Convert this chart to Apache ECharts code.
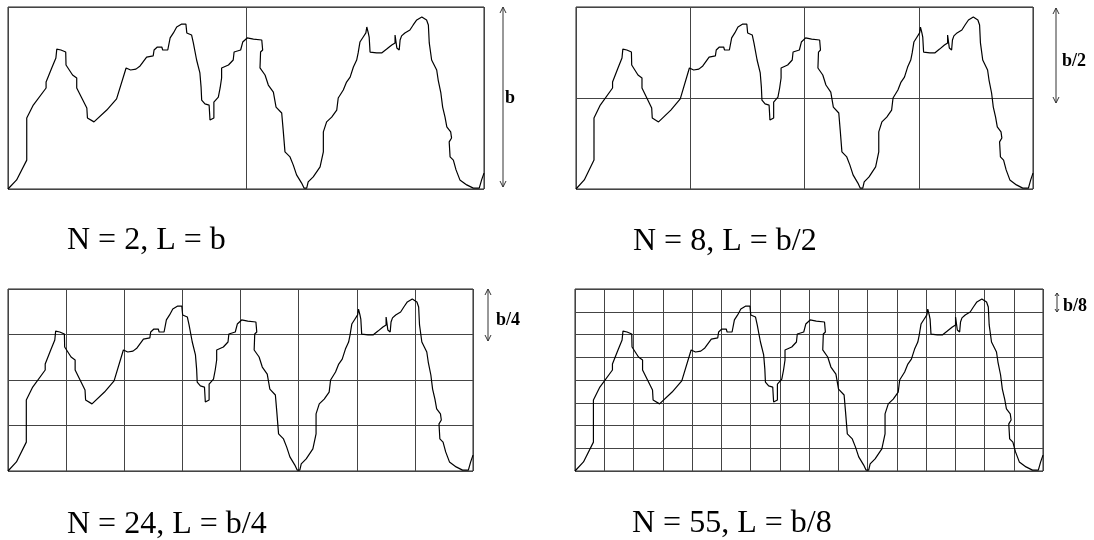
<!DOCTYPE html>
<html>
<head>
<meta charset="utf-8">
<title>box counting</title>
<script src="https://cdn.jsdelivr.net/npm/echarts@6/dist/echarts.min.js"></script>
<style>
  html, body { margin: 0; padding: 0; background: #fff; }
  #main { width: 1094px; height: 540px; }
</style>
</head>
<body>
<div id="main"></div>
<script>
// profile curve, x runs 0..16 and y runs 0..8 (b = 8)
var curveX = [0, 0.29, 0.63, 0.63, 0.85, 1.28, 1.28, 1.47, 1.61, 1.64, 1.78, 1.94, 1.95, 2.17, 2.31, 2.31, 2.48, 2.65, 2.67, 2.89,
    3.32, 3.65, 3.97, 4.12, 4.30, 4.44, 4.66, 4.88, 4.91, 5.02, 5.17, 5.20, 5.37, 5.45, 5.56, 5.67, 5.84, 5.98, 6.01, 6.17,
    6.23, 6.34, 6.45, 6.49, 6.51, 6.62, 6.76, 6.79, 6.92, 6.92, 7.07, 7.13, 7.18, 7.18, 7.41, 7.57, 7.60, 7.82, 7.89, 8.04,
    8.25, 8.53, 8.56, 8.49, 8.47, 8.64, 8.75, 8.92, 9.01, 9.20, 9.25, 9.31, 9.48, 9.59, 9.70, 9.87, 9.95, 10.04, 10.09, 10.26,
    10.49, 10.60, 10.60, 10.71, 10.88, 11.05, 11.10, 11.27, 11.38, 11.50, 11.61, 11.72, 11.77, 11.83, 11.94, 12.03, 12.06, 12.11, 12.14, 12.17,
    12.39, 12.56, 12.73, 12.90, 13.01, 13.01, 13.07, 13.15, 13.18, 13.23, 13.34, 13.51, 13.62, 13.74, 13.91, 14.07, 14.13, 14.16, 14.24, 14.41,
    14.46, 14.55, 14.61, 14.69, 14.75, 14.88, 14.91, 14.83, 14.86, 14.97, 15.06, 15.19, 15.42, 15.64, 15.84, 15.92, 16.0];
var curveY = [0, 0.40, 1.27, 3.12, 3.69, 4.44, 4.70, 5.32, 5.76, 6.15, 6.11, 6.02, 5.45, 5.01, 4.88, 4.44, 4.00, 3.56, 3.12, 2.95,
    3.47, 3.96, 5.32, 5.23, 5.27, 5.41, 5.80, 5.85, 6.11, 6.24, 6.24, 6.11, 6.11, 6.64, 6.86, 7.12, 7.25, 7.25, 6.86, 6.77,
    6.42, 5.67, 5.10, 4.48, 3.91, 3.74, 3.69, 3.03, 3.12, 3.82, 4.04, 4.44, 4.88, 5.32, 5.45, 5.67, 6.02, 6.11, 6.46, 6.64,
    6.59, 6.55, 6.11, 6.02, 5.32, 5.01, 4.57, 4.26, 3.60, 3.34, 2.59, 1.63, 1.41, 1.05, 0.62, 0.26, 0.04, 0.04, 0.31, 0.53,
    0.97, 1.63, 2.51, 2.95, 3.16, 3.47, 4.00, 4.35, 4.70, 4.92, 5.36, 5.67, 5.98, 6.46, 6.68, 6.86, 7.12, 6.86, 6.68, 6.02,
    5.98, 5.98, 6.15, 6.33, 6.42, 6.77, 6.20, 6.11, 6.55, 6.73, 6.86, 6.99, 7.21, 7.43, 7.56, 7.43, 7.21, 6.42, 5.67, 5.23,
    4.79, 4.22, 3.60, 3.16, 2.73, 2.51, 2.24, 2.07, 1.41, 1.27, 0.84, 0.40, 0.18, 0.04, 0.04, 0.40, 0.70];

var boxCount = ['2', '8', '24', '55'];
var boxSize = ['b', 'b/2', 'b/4', 'b/8'];
var boxStep = [8, 4, 2, 1];

// panel boxes in pixels: left, top, width, height
var panels = [
    [8, 7, 476, 182],
    [576, 7, 457, 182],
    [8, 289, 465, 182],
    [575, 289, 468, 182]
];
// arrow x, top, bottom, label x, label y
var arrows = [
    [503, 7, 187, 505, 98],
    [1056, 8, 103, 1062, 61],
    [488, 289, 341, 496, 320],
    [1057, 293, 312, 1063, 306]
];
// caption x, y
var captions = [[67, 241], [633, 242], [67, 525], [632, 524]];

var Chart = echarts.init(document.getElementById('main'));

var pts = [];
for (var i = 0; i < curveX.length; i++) {
    pts.push([curveX[i], curveY[i]]);
}

var grids = [], xAxes = [], yAxes = [], series = [], graphics = [];
for (var k = 0; k < 4; k++) {
    var p = panels[k];
    grids.push({
        left: p[0], top: p[1], width: p[2], height: p[3],
        show: true, borderColor: '#222', borderWidth: 1
    });
    xAxes.push({
        type: 'value', gridIndex: k, min: 0, max: 16, interval: boxStep[k],
        axisLine: {show: false}, axisTick: {show: false}, axisLabel: {show: false},
        splitLine: {show: true, lineStyle: {color: '#444', width: 1}}
    });
    yAxes.push({
        type: 'value', gridIndex: k, min: 0, max: 8, interval: boxStep[k],
        axisLine: {show: false}, axisTick: {show: false}, axisLabel: {show: false},
        splitLine: {show: true, lineStyle: {color: '#444', width: 1}}
    });
    series.push({
        type: 'line', xAxisIndex: k, yAxisIndex: k, data: pts,
        showSymbol: false, silent: true, animation: false,
        lineStyle: {color: '#000', width: 1.2}
    });

    // double arrow for the box size
    var a = arrows[k];
    var h = (a[2] - a[1]) > 40 ? 6 : 3;
    var w = (a[2] - a[1]) > 40 ? 3 : 2;
    graphics.push({type: 'line', shape: {x1: a[0], y1: a[1], x2: a[0], y2: a[2]}, style: {stroke: '#333', lineWidth: 1}});
    graphics.push({type: 'polyline', shape: {points: [[a[0] - w, a[1] + h], [a[0], a[1]], [a[0] + w, a[1] + h]]}, style: {stroke: '#333', fill: null, lineWidth: 1}});
    graphics.push({type: 'polyline', shape: {points: [[a[0] - w, a[2] - h], [a[0], a[2]], [a[0] + w, a[2] - h]]}, style: {stroke: '#333', fill: null, lineWidth: 1}});
    graphics.push({
        type: 'text', x: a[3], y: a[4],
        style: {text: boxSize[k], fill: '#000', font: 'bold 18px "Liberation Serif"', textVerticalAlign: 'middle'}
    });

    // caption
    var c = captions[k];
    graphics.push({
        type: 'text', x: c[0], y: c[1],
        style: {text: 'N = ' + boxCount[k] + ', L = ' + boxSize[k], fill: '#000', font: '32px "Liberation Serif"', textVerticalAlign: 'middle'}
    });
}

Chart.setOption({
    backgroundColor: '#fff',
    animation: false,
    grid: grids,
    xAxis: xAxes,
    yAxis: yAxes,
    series: series,
    graphic: graphics
});
</script>
</body>
</html>
